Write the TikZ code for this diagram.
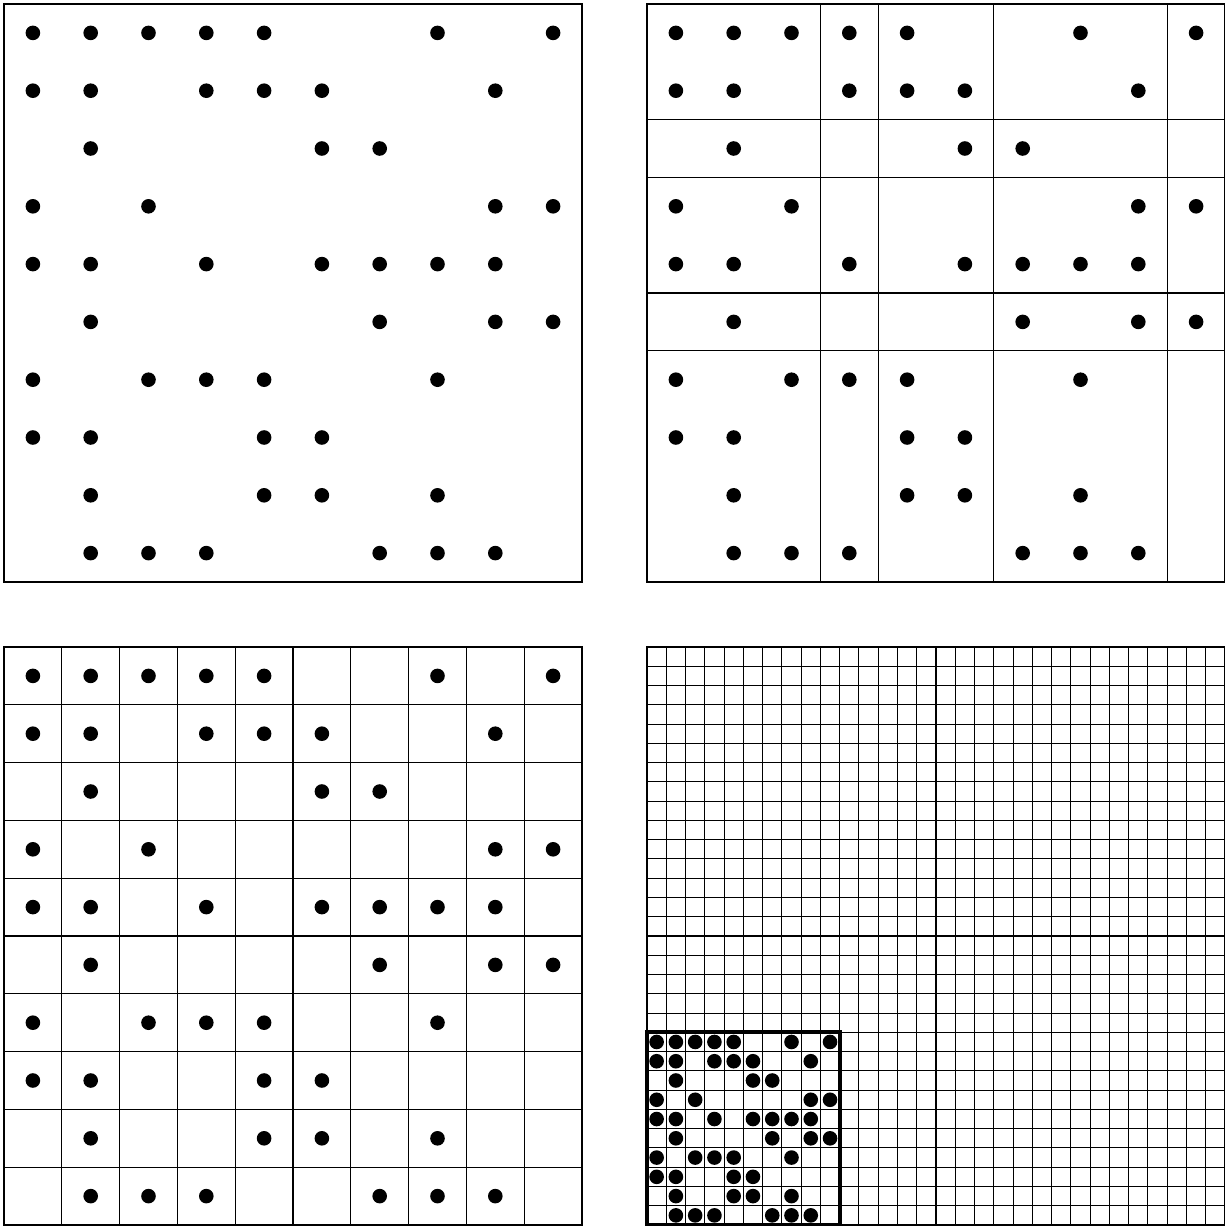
\documentclass[tikz,border=0pt]{standalone}
\begin{document}
\begin{tikzpicture}[x=1pt,y=-1pt,
  frame/.style={line width=1.2pt, draw=black},
  gridline/.style={line width=1.1pt, draw=black},
  boldframe/.style={line width=4pt, draw=black},
  dotfill/.style={fill=black}]
\useasboundingbox (0,0) rectangle (1225,1226);
\def\cs{57.8}
\def\fs{19.2667}
\def\dotlist{1/1,1/2,1/3,1/4,1/5,1/8,1/10,
2/1,2/2,2/4,2/5,2/6,2/9,
3/2,3/6,3/7,
4/1,4/3,4/9,4/10,
5/1,5/2,5/4,5/6,5/7,5/8,5/9,
6/2,6/7,6/9,6/10,
7/1,7/3,7/4,7/5,7/8,
8/1,8/2,8/5,8/6,
9/2,9/5,9/6,9/8,
10/2,10/3,10/4,10/7,10/8,10/9}
% Panel A: plain dots
\draw[frame] (4,4) rectangle (582,582);
\foreach \r/\c in \dotlist
  \fill[dotfill] ({4+\cs*\c-\cs/2},{4+\cs*\r-\cs/2}) circle (7.3pt);
% Panel B: partitioned
\foreach \k in {3,4,6,9}
  \draw[gridline] ({647+\cs*\k},4) -- ({647+\cs*\k},582);
\foreach \k in {2,3,5,6}
  \draw[gridline] (647,{4+\cs*\k}) -- (1224.5,{4+\cs*\k});
\draw[frame] (647,4) rectangle (1224.5,582);
\foreach \r/\c in \dotlist
  \fill[dotfill] ({647+\cs*\c-\cs/2},{4+\cs*\r-\cs/2}) circle (7.3pt);
% Panel C: full 10x10 grid
\foreach \k in {1,...,9} {
  \draw[gridline] ({4+\cs*\k},647) -- ({4+\cs*\k},1225);
  \draw[gridline] (4,{647+\cs*\k}) -- (582,{647+\cs*\k});
}
\draw[frame] (4,647) rectangle (582,1225);
\foreach \r/\c in \dotlist
  \fill[dotfill] ({4+\cs*\c-\cs/2},{647+\cs*\r-\cs/2}) circle (7.3pt);
% Panel D: 30x30 fine grid with embedded block
\foreach \k in {1,...,29} {
  \draw[gridline] ({647+\fs*\k},647) -- ({647+\fs*\k},1225);
  \draw[gridline] (647,{647+\fs*\k}) -- (1224.5,{647+\fs*\k});
}
\draw[frame] (647,647) rectangle (1224.5,1225);
\foreach \r/\c in \dotlist
  \fill[dotfill] ({647+\fs*\c-\fs/2},{1032.33+\fs*\r-\fs/2}) circle (7.3pt);
\draw[boldframe] (647,1032.33) rectangle (839.67,1225);
\end{tikzpicture}
\end{document}
